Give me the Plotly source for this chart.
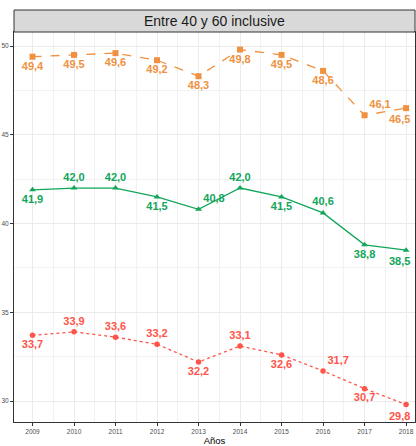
import plotly.graph_objects as go

years = [2009, 2010, 2011, 2012, 2013, 2014, 2015, 2016, 2017, 2018]
serie_naranja = [49.4, 49.5, 49.6, 49.2, 48.3, 49.8, 49.5, 48.6, 46.1, 46.5]
serie_verde = [41.9, 42.0, 42.0, 41.5, 40.8, 42.0, 41.5, 40.6, 38.8, 38.5]
serie_roja = [33.7, 33.9, 33.6, 33.2, 32.2, 33.1, 32.6, 31.7, 30.7, 29.8]
y_ticks = [30, 35, 40, 45, 50]

B, T = "bottom center", "top center"
pos_naranja = [B, B, B, B, B, B, B, B, "top right", B]
pos_verde = [B, T, T, B, "top right", T, B, T, B, B]
pos_roja = [B, T, T, T, B, T, B, "top right", B, B]

series = [
    (serie_naranja, "#EF9140", "square", "dash", 6, pos_naranja),
    (serie_verde, "#12A65A", "triangle-up", "solid", 6, pos_verde),
    (serie_roja, "#FF5449", "circle", "dot", 5.5, pos_roja),
]

label_font = dict(size=11, family="Liberation Sans, Arial", weight="bold")


def fmt(v):
    return f"{v:.1f}".replace(".", ",")


fig = go.Figure()
for vals, color, symbol, dash, msize, pos in series:
    # last label is placed separately (pushed inside the panel like the original)
    labels = [fmt(v) for v in vals[:-1]] + [""]
    fig.add_trace(go.Scatter(
        x=years, y=vals, mode="lines+markers+text",
        line=dict(color=color, width=1.3, dash=dash),
        marker=dict(color=color, symbol=symbol, size=msize),
        text=labels, textposition=pos,
        textfont=dict(color=color, **label_font),
        showlegend=False, cliponaxis=False,
    ))
    fig.add_annotation(x=years[-1], y=vals[-1], text=fmt(vals[-1]), showarrow=False,
                       xshift=-7, yshift=-11, font=dict(color=color, **label_font))

# facet strip
fig.add_shape(type="rect", xref="paper", yref="paper", x0=0, x1=1, y0=1, y1=1.0564,
              fillcolor="#D9D9D9", line=dict(color="#333333", width=1))
fig.add_annotation(text="Entre 40 y 60 inclusive", xref="paper", yref="paper",
                   x=0.5, y=1.0282, showarrow=False, yanchor="middle",
                   font=dict(size=14, color="#1A1A1A", family="Liberation Sans, Arial"))

axis_common = dict(
    showgrid=True, gridcolor="#EBEBEB", gridwidth=1,
    ticks="outside", ticklen=3, tickcolor="#333333", tickwidth=0.8,
    tickfont=dict(size=6.5, color="#4D4D4D", family="Liberation Sans, Arial"),
    showline=True, linecolor="#333333", linewidth=1, mirror=True,
    zeroline=False,
)

fig.update_xaxes(**axis_common, range=[2008.554, 2018.215], tickvals=years,
                 minor=dict(dtick=1, tick0=2009.5, showgrid=True, gridcolor="#F2F2F2", gridwidth=0.6),
                 title=dict(text="Años", font=dict(size=9.5, color="#000000", family="Liberation Sans, Arial"),
                            standoff=4))
fig.update_yaxes(**axis_common, range=[28.82, 50.79], tickvals=y_ticks,
                 minor=dict(dtick=5, tick0=32.5, showgrid=True, gridcolor="#F2F2F2", gridwidth=0.6))

fig.update_layout(
    width=416, height=446,
    margin=dict(l=14, r=1, t=32, b=24),
    plot_bgcolor="white", paper_bgcolor="white",
)

# drop the default page margin so the figure sits at the window's corner
fig.write_html("out.html", config={"displayModeBar": False},
               post_script="document.body.style.margin='0';document.body.style.overflow='hidden';")
